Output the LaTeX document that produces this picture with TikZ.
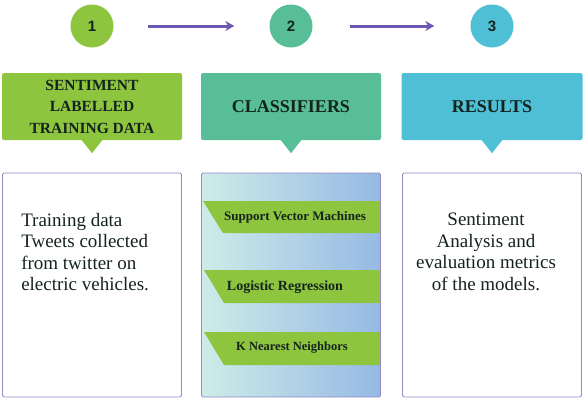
\documentclass[tikz,border=0pt]{standalone}
\usepackage{fontspec}
\setmainfont{Liberation Serif}
\newfontfamily\numfont{Liberation Sans}
\usetikzlibrary{shapes.geometric, arrows, arrows.meta, positioning, calc}
\definecolor{stepgreen}{RGB}{142,197,62}
\definecolor{stepteal}{RGB}{88,190,152}
\definecolor{stepcyan}{RGB}{78,191,212}
\definecolor{arrowpurple}{RGB}{108,88,178}
\definecolor{boxborder}{RGB}{150,135,200}
\definecolor{mintpale}{RGB}{205,236,232}
\definecolor{skyblue}{RGB}{150,185,228}
\definecolor{textdark}{RGB}{20,35,30}
\tikzstyle{flowarrow} = [draw=arrowpurple, line width=3pt, -{Stealth[length=9pt,width=10pt]}]
\tikzstyle{stepnum} = [circle, minimum size=43pt, inner sep=0pt, text=textdark, font=\numfont\bfseries\fontsize{15}{15}\selectfont]
\tikzstyle{header} = [rectangle, rounded corners=2pt, minimum width=180pt, minimum height=67pt, inner sep=0pt, align=center, text=textdark]
\tikzstyle{bodybox} = [rectangle, rounded corners=1.5pt, draw=boxborder, line width=0.9pt, minimum width=179pt, minimum height=224pt]
\tikzstyle{bodytext} = [inner sep=0pt, text=textdark, font=\fontsize{19}{21.5}\selectfont]
\tikzstyle{banner} = [inner sep=0pt, text=textdark]

\begin{document}
\begin{tikzpicture}[x=1pt, y=-1pt]
            \useasboundingbox (0,0) rectangle (586,408);
            \node (c1) [stepnum, fill = stepgreen] at (92,26) {1};
            \node (c2) [stepnum, fill = stepteal, right of = c1, node distance = 199pt] {2};
            \node (c3) [stepnum, fill = stepcyan, right of = c2, node distance = 201pt] {3};
            
            \node (hd1) [header, fill = stepgreen, below of = c1, node distance = 80.5pt, font = \bfseries\fontsize{15.5}{21.5}\selectfont] {SENTIMENT\\LABELLED\\TRAINING DATA};
            \node (hd2) [header, fill = stepteal, below of = c2, node distance = 80.5pt, font = \bfseries\fontsize{18}{18}\selectfont] {CLASSIFIERS};
            \node (hd3) [header, minimum width = 181pt, fill = stepcyan, below of = c3, node distance = 80.5pt, font = \bfseries\fontsize{18}{18}\selectfont] {RESULTS};
            
            \fill [stepgreen] ($(hd1.south)+(-11,-1)$) -- ($(hd1.south)+(11,-1)$) -- ($(hd1.south)+(0,13)$) -- cycle;
            \fill [stepteal] ($(hd2.south)+(-11,-1)$) -- ($(hd2.south)+(11,-1)$) -- ($(hd2.south)+(0,13)$) -- cycle;
            \fill [stepcyan] ($(hd3.south)+(-11,-1)$) -- ($(hd3.south)+(11,-1)$) -- ($(hd3.south)+(0,13)$) -- cycle;
            
            \node (b1) [bodybox, below of = hd1, node distance = 178.5pt] {};
            \node (b2) [bodybox, left color = mintpale, right color = skyblue, below of = hd2, node distance = 178.5pt] {};
            \node (b3) [bodybox, below of = hd3, node distance = 178.5pt] {};
            
            \node (t1) [bodytext, anchor = west, align = left] at ($(b1.west)+(19,-33)$) {Training data\\Tweets collected\\from twitter on\\electric vehicles.};
            \node (t3) [bodytext, align = center] at ($(b3.center)+(-6,-33)$) {Sentiment\\Analysis and\\evaluation metrics\\of the models.};
            
            % classifier banners
            \fill [stepgreen] (203,201) -- (380,201) -- (380,233) -- (223,233) -- cycle;
            \fill [stepgreen] (204,270) -- (380,270) -- (380,303) -- (224,303) -- cycle;
            \fill [stepgreen] (204,332) -- (380,332) -- (380,365) -- (224,365) -- cycle;
            \node (svm) [banner, font = \bfseries\fontsize{13}{13}\selectfont] at (295,217) {Support Vector Machines};
            \node (lr) [banner, font = \bfseries\fontsize{14}{14}\selectfont] at (285,287) {Logistic Regression};
            \node (knn) [banner, font = \bfseries\fontsize{12.5}{12.5}\selectfont] at (292,348) {K Nearest Neighbors};
            
            \draw [flowarrow, shorten <= 34pt, shorten >= 35pt] (c1) -- (c2);
            \draw [flowarrow, shorten <= 37pt, shorten >= 36pt] (c2) -- (c3);
        \end{tikzpicture}
\end{document}
